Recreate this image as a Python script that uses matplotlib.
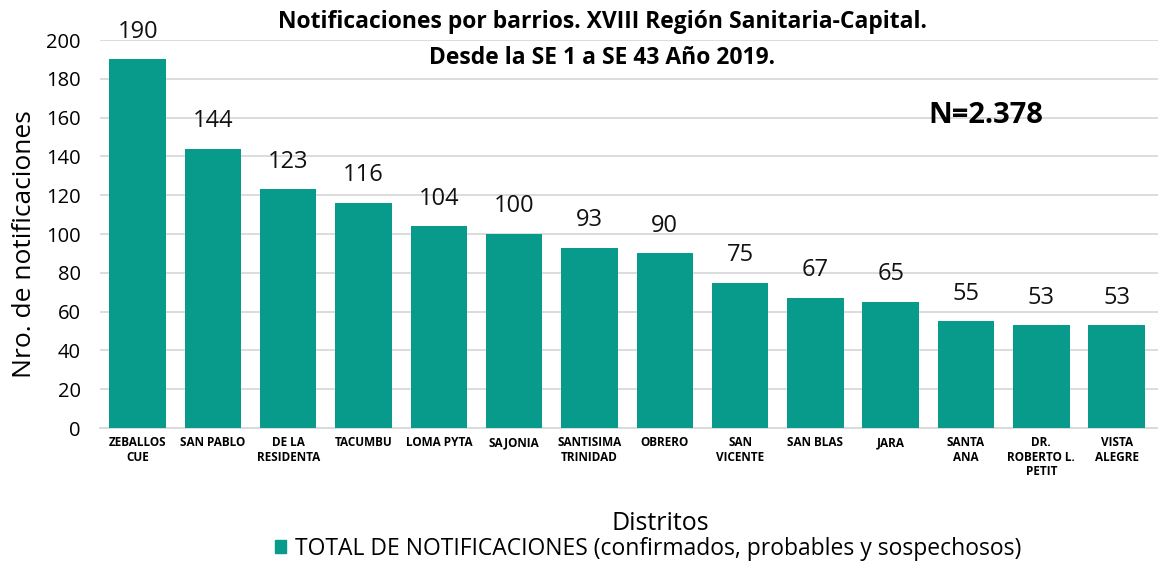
import matplotlib.pyplot as plt
from matplotlib.patches import Patch

plt.rcParams['font.family'] = ['Open Sans', 'DejaVu Sans']

barrios = ['ZEBALLOS\nCUE', 'SAN PABLO', 'DE LA\nRESIDENTA', 'TACUMBU', 'LOMA PYTA',
           'SAJONIA', 'SANTISIMA\nTRINIDAD', 'OBRERO', 'SAN\nVICENTE', 'SAN BLAS',
           'JARA', 'SANTA\nANA', 'DR.\nROBERTO L.\nPETIT', 'VISTA\nALEGRE']
notificaciones = [190, 144, 123, 116, 104, 100, 93, 90, 75, 67, 65, 55, 53, 53]
yticks = list(range(0, 201, 20))

color = '#089A8A'

fig = plt.figure(figsize=(11.58, 5.62), dpi=100)
ax = fig.add_axes([100 / 1158, 1 - 428 / 562, 1 - 100 / 1158, 388 / 562])

x = range(len(barrios))
bars = ax.bar(x, notificaciones, width=0.75, color=color, zorder=3)
for xi, v in zip(x, notificaciones):
    ax.text(xi, v + 8, str(v), ha='center', va='bottom', fontsize=17, color='#111111')

ax.set_xlim(-0.5, 13.55)
ax.set_ylim(0, 200)
ax.set_yticks(yticks)
ax.tick_params(axis='y', labelsize=14.5, length=0, pad=14)
ax.tick_params(axis='x', length=0, pad=6)
ax.set_xticks(list(x))
ax.set_xticklabels(barrios, fontsize=8.5, fontweight='bold', linespacing=1.15)
ax.yaxis.grid(True, color='#D9D9D9', linewidth=1.3, zorder=0)
for s in ['top', 'right', 'left']:
    ax.spines[s].set_visible(False)
ax.spines['bottom'].set_color('#D9D9D9')
ax.spines['bottom'].set_linewidth(1.3)

ax.set_ylabel('Nro. de notificaciones', fontsize=19)
ax.yaxis.set_label_coords(-0.06, 0.475)

fig.text(0.52, 0.96, 'Notificaciones por barrios. XVIII Región Sanitaria-Capital.',
         ha='center', va='center', fontsize=16.5, fontweight='bold')
fig.text(0.52, 0.896, 'Desde la SE 1 a SE 43 Año 2019.',
         ha='center', va='center', fontsize=16.5, fontweight='bold')
ax.text(11.27, 161, 'N=2.378', ha='center', va='center', fontsize=21, fontweight='bold')

fig.text(660 / 1158, 1 - 523 / 562, 'Distritos', ha='center', va='center', fontsize=18)
fig.legend(handles=[Patch(color=color, label='TOTAL DE NOTIFICACIONES (confirmados, probables y sospechosos)')],
           loc='center', bbox_to_anchor=(648 / 1158, 1 - 549 / 562), frameon=False,
           fontsize=16.5, handlelength=0.5, handleheight=0.5, handletextpad=0.4)

fig.savefig('out.png', dpi=100)
